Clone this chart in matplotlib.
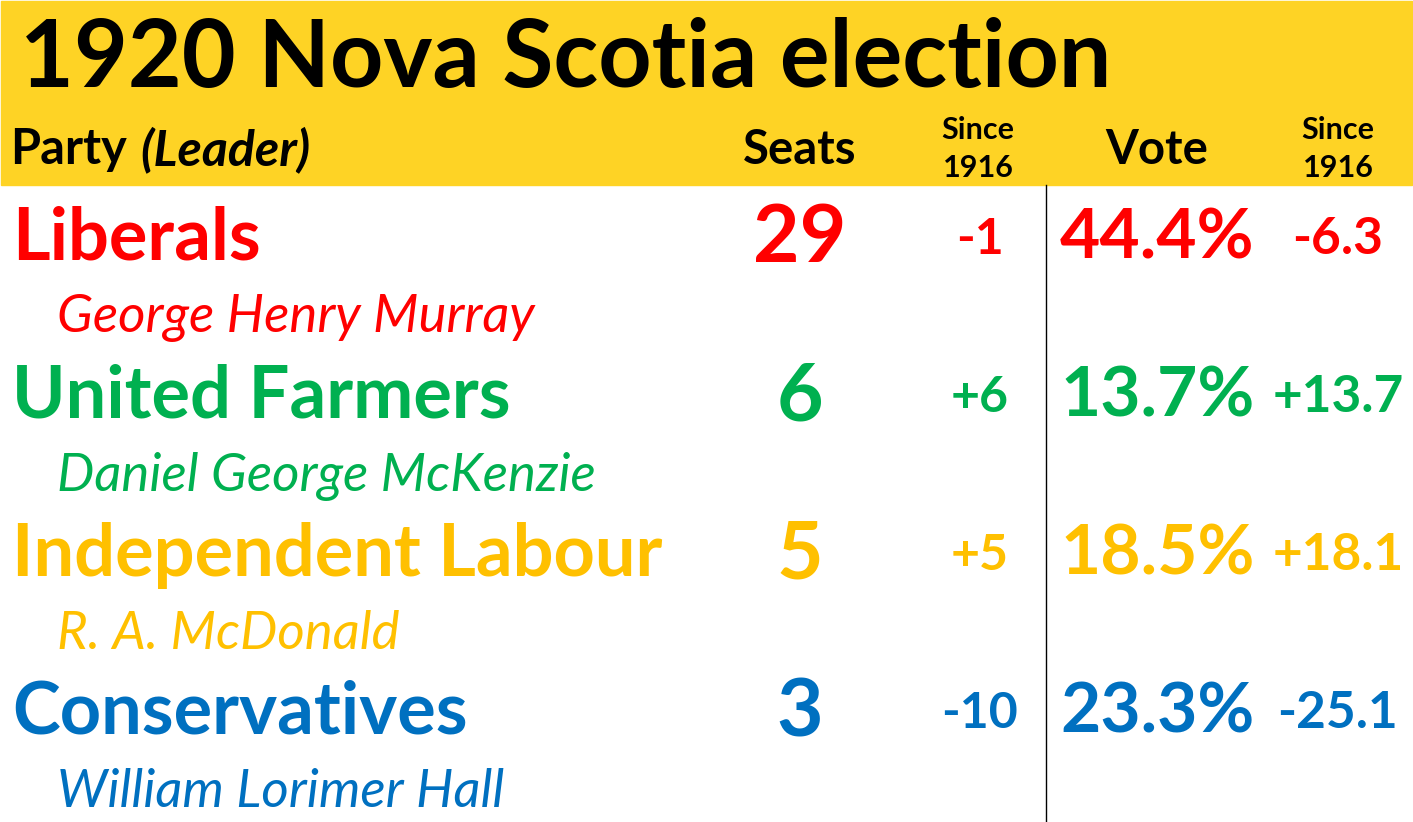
import matplotlib
matplotlib.use("Agg")
import matplotlib.pyplot as plt
from matplotlib.patches import Rectangle

title = "1920 Nova Scotia election"
parties = ["Liberals", "United Farmers", "Independent Labour", "Conservatives"]
leaders = ["George Henry Murray", "Daniel George McKenzie", "R. A. McDonald", "William Lorimer Hall"]
seats = [29, 6, 5, 3]
seat_change = [-1, 6, 5, -10]
vote_share = [44.4, 13.7, 18.5, 23.3]
vote_change = [-6.3, 13.7, 18.1, -25.1]
colors = ["#FF0000", "#00B050", "#FFC000", "#0070C0"]

W, H = 1413, 822
FONT = "Lato"
BAND = "#FED325"

fig = plt.figure(figsize=(W / 100, H / 100), dpi=100)
ax = fig.add_axes([0, 0, 1, 1])
ax.set_xlim(0, W)
ax.set_ylim(H, 0)
ax.axis("off")

# header band
ax.add_patch(Rectangle((1, 1), W - 2, 184, color=BAND, zorder=0))
ax.text(20, 60, title, fontsize=67, fontweight="bold", family=FONT, va="center", ha="left")
ax.text(10, 150, "Party", fontsize=35, fontweight="bold", family=FONT, va="center", ha="left")
ax.text(140, 150, "(Leader)", fontsize=36, fontweight="bold", style="italic", family=FONT,
        va="center", ha="left")
ax.text(800, 150, "Seats", fontsize=34, fontweight="bold", family=FONT, va="center", ha="center")
ax.text(1157, 150, "Vote", fontsize=34, fontweight="bold", family=FONT, va="center", ha="center")
for cx in (978, 1338):
    ax.text(cx, 130, "Since", fontsize=22, fontweight="bold", family=FONT, va="center", ha="center")
    ax.text(cx, 168, "1916", fontsize=22, fontweight="bold", family=FONT, va="center", ha="center")

# divider
ax.plot([1046, 1046], [185, H], color="black", lw=1)

row_gap = 158
for i, (p, ldr, s, sc, v, vc, c) in enumerate(
        zip(parties, leaders, seats, seat_change, vote_share, vote_change, colors)):
    y = 239 + i * row_gap
    ax.text(12, y, p, fontsize=52, fontweight="bold", family=FONT, color=c, va="center", ha="left")
    ax.text(57, y + 79, ldr, fontsize=38, fontweight="normal", style="italic", family=FONT,
            color=c, va="center", ha="left")
    ax.text(800, y, str(s), fontsize=58, fontweight="bold", family=FONT, color=c,
            va="center", ha="center")
    ax.text(980, y, f"{sc:+d}", fontsize=36, fontweight="bold", family=FONT, color=c,
            va="center", ha="center")
    ax.text(1060, y, f"{v:.1f}%", fontsize=50, fontweight="bold", family=FONT, color=c,
            va="center", ha="left")
    ax.text(1338, y, f"{vc:+.1f}", fontsize=37, fontweight="bold", family=FONT, color=c,
            va="center", ha="center")

fig.savefig("out.png", dpi=100, facecolor="white")
